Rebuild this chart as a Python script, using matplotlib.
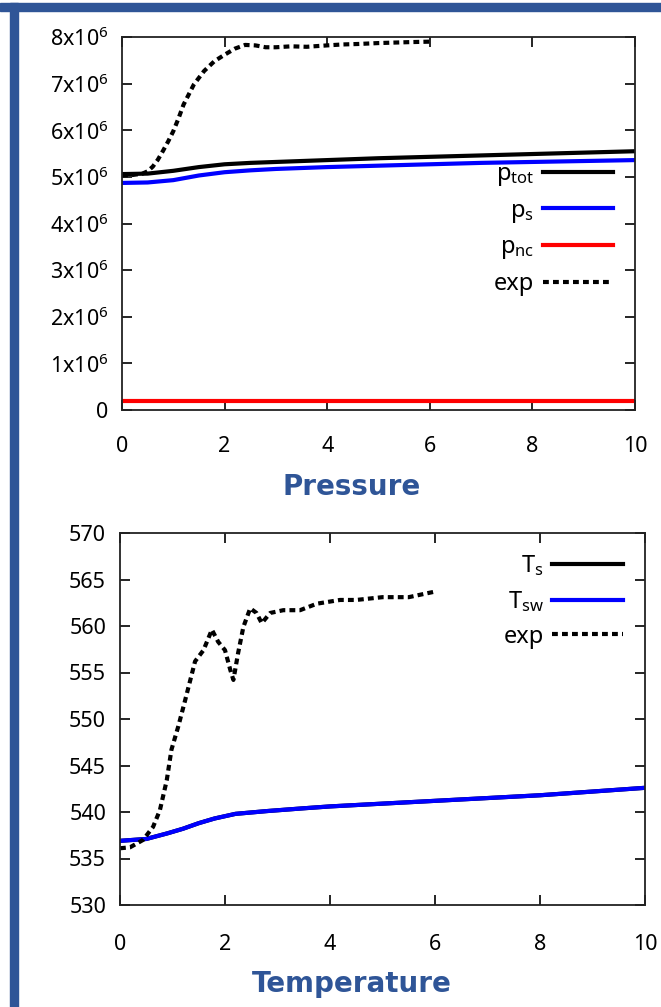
import matplotlib
matplotlib.use("Agg")
import matplotlib.pyplot as plt
from matplotlib.patches import Rectangle

plt.rcParams["font.family"] = ["Noto Sans", "DejaVu Sans"]
plt.rcParams["mathtext.default"] = "regular"

# ---- pressure data (Pa) ----
t_sim = [0, 0.5, 1, 1.5, 2, 2.5, 3, 4, 5, 6, 7, 8, 9, 10]
p_tot = [5.06e6, 5.07e6, 5.13e6, 5.21e6, 5.27e6, 5.30e6, 5.32e6, 5.36e6,
         5.40e6, 5.43e6, 5.46e6, 5.49e6, 5.52e6, 5.55e6]
p_s = [4.87e6, 4.88e6, 4.93e6, 5.03e6, 5.10e6, 5.14e6, 5.17e6, 5.21e6,
       5.24e6, 5.27e6, 5.30e6, 5.32e6, 5.34e6, 5.36e6]
p_nc = [1.9e5] * len(t_sim)

t_pexp = [0, 0.2, 0.4, 0.5, 0.6, 0.7, 0.8, 0.9, 1.0, 1.1, 1.2, 1.4, 1.6,
          1.8, 2.0, 2.2, 2.4, 2.6, 2.8, 3.0, 3.3, 3.6, 4.0, 4.3, 4.6, 5.0,
          5.3, 5.6, 6.0]
p_exp = [5.03e6, 5.04e6, 5.07e6, 5.12e6, 5.22e6, 5.37e6, 5.56e6, 5.76e6,
         5.98e6, 6.25e6, 6.55e6, 6.98e6, 7.27e6, 7.48e6, 7.62e6, 7.75e6,
         7.83e6, 7.82e6, 7.78e6, 7.78e6, 7.80e6, 7.79e6, 7.82e6, 7.84e6,
         7.85e6, 7.87e6, 7.88e6, 7.89e6, 7.90e6]

# ---- temperature data (K) ----
t_tsim = [0, 0.5, 0.9, 1.2, 1.5, 1.8, 2.2, 2.8, 3.5, 4, 5, 6, 7, 8, 9, 10]
T_sw = [536.9, 537.1, 537.7, 538.2, 538.8, 539.3, 539.8, 540.1, 540.4,
        540.6, 540.9, 541.2, 541.5, 541.8, 542.2, 542.6]
T_s = list(T_sw)

t_texp = [0, 0.19, 0.44, 0.63, 0.76, 0.89, 0.98, 1.11, 1.24, 1.43, 1.59,
          1.75, 1.87, 2.0, 2.1, 2.16, 2.25, 2.35, 2.48, 2.6, 2.7, 2.86,
          3.11, 3.43, 3.75, 4.19, 4.5, 5.0, 5.5, 6.0]
T_exp = [536.1, 536.2, 537.0, 538.4, 540.2, 543.4, 546.7, 549.2, 552.0,
         556.2, 557.4, 559.6, 558.3, 557.4, 555.3, 554.2, 557.1, 559.9,
         561.9, 561.4, 560.3, 561.4, 561.7, 561.7, 562.4, 562.8, 562.8,
         563.1, 563.1, 563.7]

p_ticks = [0, 1e6, 2e6, 3e6, 4e6, 5e6, 6e6, 7e6, 8e6]
p_ticklabels = ["0"] + [f"{i}x10$^{{6}}$" for i in range(1, 9)]
x_ticks = [0, 2, 4, 6, 8, 10]
T_ticks = [530, 535, 540, 545, 550, 555, 560, 565, 570]

W, H = 661, 1007
fig = plt.figure(figsize=(W / 100, H / 100), dpi=100)

frame_blue = "#2F5597"
fig.patches.append(Rectangle((0, 1 - 11 / H), 1, 8 / H, transform=fig.transFigure,
                             color=frame_blue, zorder=0))
fig.patches.append(Rectangle((10 / W, 0), 8 / W, 1 - 3 / H, transform=fig.transFigure,
                             color=frame_blue, zorder=0))

dash = (0, (1.4, 1.0))
LW = 3.0


def style_axes(ax, xpad):
    ax.tick_params(direction="in", length=7, width=1.2, top=True, right=True,
                   labelsize=15.5, colors="black")
    ax.tick_params(axis="x", pad=xpad)
    ax.tick_params(axis="y", pad=10)
    for s in ax.spines.values():
        s.set_linewidth(1.3)
        s.set_color("#222222")


leg_kw = dict(loc="upper right", frameon=False, markerfirst=False, fontsize=17,
              handlelength=3.0, handletextpad=0.35, labelspacing=0.45,
              borderpad=0, borderaxespad=0)

# ---- pressure ----
ax1 = fig.add_axes([122 / W, 1 - 410 / H, 513 / W, 373 / H])
ax1.plot(t_sim, p_tot, color="black", lw=LW, label="p$_{tot}$")
ax1.plot(t_sim, p_s, color="#0000FF", lw=LW, label="p$_{s}$")
ax1.plot(t_sim, p_nc, color="#FF0000", lw=LW, label="p$_{nc}$")
ax1.plot(t_pexp, p_exp, color="black", lw=LW, ls=dash, label="exp")
ax1.set_xlim(0, 10)
ax1.set_ylim(0, 8e6)
ax1.set_xticks(x_ticks)
ax1.set_yticks(p_ticks)
ax1.set_yticklabels(p_ticklabels)
style_axes(ax1, 19)
ax1.legend(bbox_to_anchor=(0.958, 0.665), **leg_kw)
fig.text(352 / W, 1 - 487 / H, "Pressure", ha="center", va="center",
         fontsize=20, fontweight="bold", color=frame_blue, family="DejaVu Sans")

# ---- temperature ----
ax2 = fig.add_axes([120 / W, 1 - 905 / H, 525 / W, 372 / H])
ax2.plot(t_tsim, T_s, color="black", lw=LW, label="T$_{s}$")
ax2.plot(t_tsim, T_sw, color="#0000FF", lw=LW, label="T$_{sw}$")
ax2.plot(t_texp, T_exp, color="black", lw=LW, ls=dash, label="exp")
ax2.set_xlim(0, 10)
ax2.set_ylim(530, 570)
ax2.set_xticks(x_ticks)
ax2.set_yticks(T_ticks)
style_axes(ax2, 21)
ax2.legend(bbox_to_anchor=(0.958, 0.945), **leg_kw)
fig.text(352 / W, 1 - 984 / H, "Temperature", ha="center", va="center",
         fontsize=20, fontweight="bold", color=frame_blue, family="DejaVu Sans")

fig.savefig("out.png", dpi=100)
